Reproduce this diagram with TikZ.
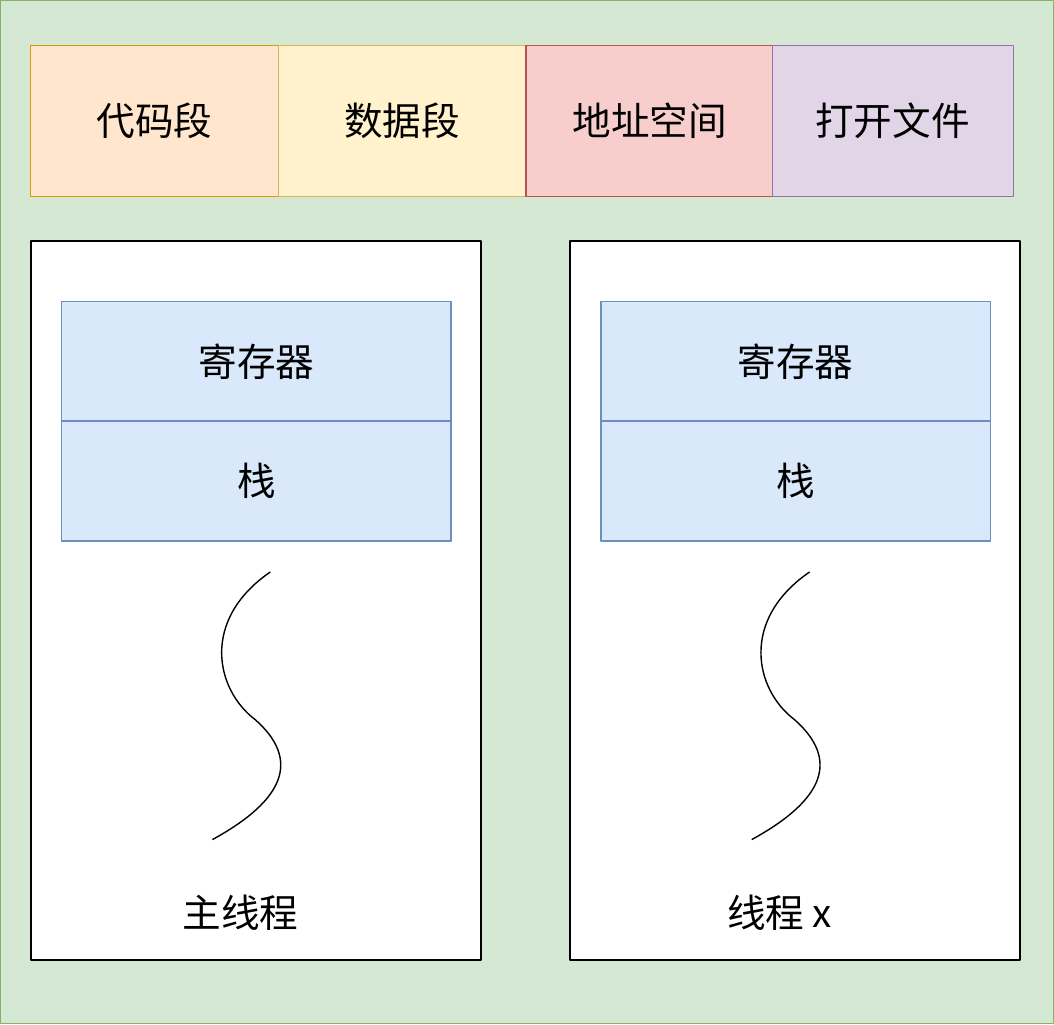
\documentclass[tikz,border=0pt]{standalone}
\usepackage{fontspec}
\setmainfont{Noto Sans CJK SC}
\definecolor{bggreen}{HTML}{D5E8D4}
\definecolor{bdgreen}{HTML}{82B366}
\definecolor{orfill}{HTML}{FFE6CC}
\definecolor{ordraw}{HTML}{D79B00}
\definecolor{yefill}{HTML}{FFF2CC}
\definecolor{yedraw}{HTML}{D6B656}
\definecolor{refill}{HTML}{F8CECC}
\definecolor{redraw}{HTML}{B85450}
\definecolor{pufill}{HTML}{E1D5E7}
\definecolor{pudraw}{HTML}{9673A6}
\definecolor{blfill}{HTML}{DAE8FC}
\definecolor{bldraw}{HTML}{6C8EBF}
\tikzset{
  seg/.style={draw=#1draw, fill=#1fill, thick},
  cell/.style={draw=bldraw, fill=blfill, thick},
  lab/.style={font=\fontsize{22}{26}\selectfont}
}
\begin{document}
\begin{tikzpicture}
  [
  x=0.02cm, y=-0.02cm, line join=round
  %Pixelraster der Vorlage
  ]
  \fill[bggreen, draw=bdgreen, thick] (0,0) rectangle (1054,1024);
  %Gemeinsame Ressourcen
  \draw[seg=or] (30,45) rectangle (278,196);
  \draw[seg=ye] (278,45) rectangle (526,196);
  \draw[seg=re] (526,45) rectangle (773,196);
  \draw[seg=pu] (773,45) rectangle (1014,196);
  \node[lab] (code) at (154,120) {代码段};
  \node[lab] (data) at (402,120) {数据段};
  \node[lab] (addr) at (650,120) {地址空间};
  \node[lab] (file) at (893,120) {打开文件};
  %Threads
  \foreach \dx/\name/\txt in {0/main/主线程, 540/other/线程 x} {
    \begin{scope}[xshift=\dx*0.02cm]
      \draw[very thick, fill=white] (30,241) rectangle (481,961);
      \draw[cell] (61,301) rectangle (451,421);
      \draw[cell] (61,421) rectangle (451,541);
      \node[lab] (reg\name) at (256,361) {寄存器};
      \node[lab] (stack\name) at (256,481) {栈};
      \draw[thick] (270,572) .. controls (200,620) and (215,690) .. (255,720)
        .. controls (300,760) and (285,800) .. (212,840);
      \node[lab] (label\name) at (240,913) {\txt};
    \end{scope}
  }
\end{tikzpicture}
\end{document}
